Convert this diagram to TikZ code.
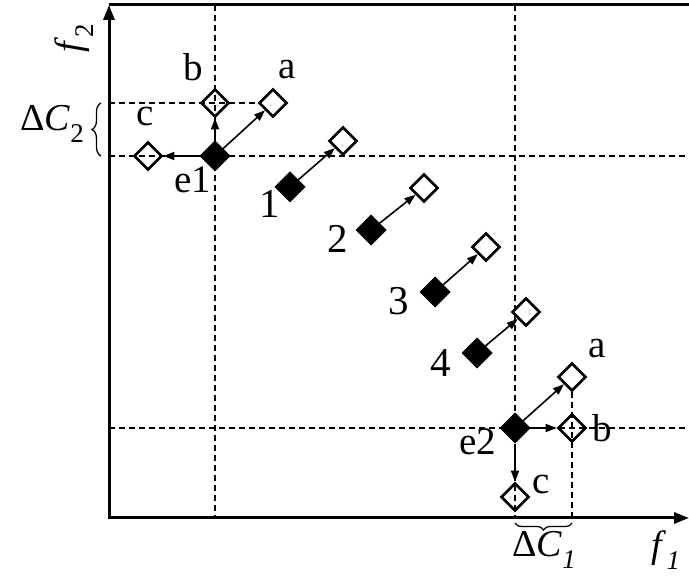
\documentclass[tikz,border=0pt]{standalone}
\usepackage{fontspec}
\setmainfont{Liberation Serif}
\usetikzlibrary{shapes.geometric,arrows.meta,decorations.pathreplacing}
\newcommand{\mysub}[1]{\raisebox{-0.3em}{\fontsize{27}{27}\selectfont #1}}
\begin{document}
\begin{tikzpicture}[x=1pt,y=-1pt,
  solidpt/.style={shape=diamond,fill=black,draw=black,line width=1pt,minimum width=30pt,minimum height=30pt,inner sep=0pt},
  openpt/.style={shape=diamond,draw=black,line width=2.6pt,minimum width=28pt,minimum height=28pt,inner sep=0pt},
  lbl/.style={font=\fontsize{39}{39}\selectfont,inner sep=0pt},
  num/.style={font=\fontsize{41}{41}\selectfont,inner sep=0pt},
  mlbl/.style={font=\fontsize{38}{38}\selectfont,inner sep=0pt},
  conn/.style={line width=1.6pt,-{Triangle[length=11pt,width=8pt]}},
  axis/.style={line width=3pt},
  dsh/.style={line width=1.7pt,dash pattern=on 6pt off 4pt}]
\useasboundingbox (0,0) rectangle (689,577);
% guide coordinates
\coordinate (o) at (109,518);
\coordinate (ytop) at (109,5);
\coordinate (tr) at (689,5);
\coordinate (xend) at (689,518);
% dashed guides
\draw[dsh] (215,5) -- (215,518);
\draw[dsh] (515,5) -- (515,518);
\draw[dsh] (109,156) -- (689,156);
\draw[dsh] (109,428) -- (689,428);
% axes
\draw[axis] (ytop) -- (tr);
\draw[axis,-{Triangle[length=15pt,width=11pt]}] ([yshift=1.5pt]o) -- (ytop);
\draw[axis,-{Triangle[length=15pt,width=11pt]}] ([xshift=-1.5pt]o) -- (xend);
% e1 group
\node[solidpt] (e1) at (215,156) {};
\node[openpt] (a1) at (273,103) {};
\node[openpt] (b1) at (215,103) {};
\node[openpt] (c1) at (148,156) {};
\draw[dsh] (109,103) -- (a1.west);
\draw[conn] (e1) -- (a1);
\draw[conn] (e1) -- (b1);
\draw[conn] (e1) -- (c1);
\node[lbl] (la1) at (287,70) {a};
\node[lbl] (lb1) at (193,67) {b};
\node[lbl] (lc1) at (145,117) {c};
\node[lbl] (le1) at (193,180) {e1};
% points 1-4
\node[solidpt] (p1) at (290,187) {};
\node[openpt] (q1) at (343,141) {};
\node[solidpt] (p2) at (371,230) {};
\node[openpt] (q2) at (424,188) {};
\node[solidpt] (p3) at (435,292) {};
\node[openpt] (q3) at (486,247) {};
\node[solidpt] (p4) at (477,353) {};
\node[openpt] (q4) at (526,312) {};
\draw[conn] (p1) -- (q1);
\draw[conn] (p2) -- (q2);
\draw[conn] (p3) -- (q3);
\draw[conn] (p4) -- (q4);
\node[num] (n1) at (270,204) {1};
\node[num] (n2) at (338,239) {2};
\node[num] (n3) at (399,301) {3};
\node[num] (n4) at (441,363) {4};
% e2 group
\node[solidpt] (e2) at (515,428) {};
\node[openpt] (a2) at (572,377) {};
\node[openpt] (b2) at (572,428) {};
\node[openpt] (c2) at (515,497) {};
\draw[dsh] (a2.south) -- (572,518);
\draw[conn] (e2) -- (a2);
\draw[conn] (e2) -- (b2);
\draw[conn] (e2) -- (c2);
\node[lbl] (la2) at (597,349) {a};
\node[lbl] (lb2) at (602,428) {b};
\node[lbl] (lc2) at (541,485) {c};
\node[lbl] (le2) at (478,442) {e2};
% braces
\draw[line width=1.3pt,decorate,decoration={brace,amplitude=9pt}] (101,156) -- (101,103);
\draw[line width=1.3pt,decorate,decoration={brace,amplitude=7pt}] (572,523) -- (515,523);
\node[mlbl,anchor=east] (dc2) at (84,124) {Δ\textit{C}\mysub{2}};
\node[mlbl] (dc1) at (544,550) {Δ\textit{C}\mysub{\textit{1}}};
\node[mlbl] (f1) at (666,550) {\textit{f}\mysub{\textit{1}}};
\node[mlbl,rotate=90] (f2) at (74,38) {\textit{f}\mysub{2}};
\end{tikzpicture}
\end{document}
